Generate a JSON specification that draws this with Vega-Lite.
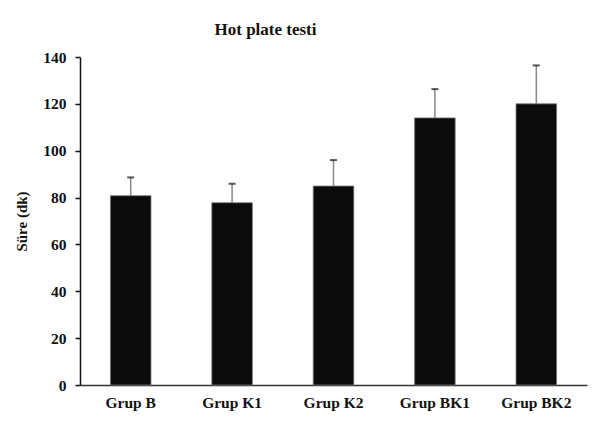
{
  "$schema": "https://vega.github.io/schema/vega-lite/v6.json",
  "width": 507,
  "height": 328,
  "autosize": "none",
  "padding": {"left": 80, "top": 57, "right": 19, "bottom": 40},
  "background": "white",
  "title": {
    "text": "Hot plate testi",
    "font": "Liberation Serif",
    "fontSize": 17,
    "fontWeight": "bold",
    "color": "#111",
    "anchor": "middle",
    "dx": -68,
    "offset": 11
  },
  "data": {
    "values": [
      {"grup": "Grup B", "sure": 80.8, "ust": 88.6},
      {"grup": "Grup K1", "sure": 77.8, "ust": 85.9},
      {"grup": "Grup K2", "sure": 84.9, "ust": 96.0},
      {"grup": "Grup BK1", "sure": 114.0, "ust": 126.3},
      {"grup": "Grup BK2", "sure": 120.0, "ust": 136.4}
    ]
  },
  "encoding": {
    "x": {
      "field": "grup",
      "type": "nominal",
      "sort": null,
      "scale": {"paddingInner": 0.6, "paddingOuter": 0.3},
      "axis": {
        "title": null,
        "labelAngle": 0,
        "ticks": false,
        "domainColor": "#333",
        "domainWidth": 1.5,
        "labelFont": "Liberation Serif",
        "labelFontSize": 15.5,
        "labelFontWeight": "bold",
        "labelColor": "#111",
        "labelPadding": 10
      }
    }
  },
  "layer": [
    {
      "mark": {"type": "rule", "color": "#888", "strokeWidth": 1.5},
      "encoding": {
        "y": {"field": "sure", "type": "quantitative"},
        "y2": {"field": "ust"}
      }
    },
    {
      "mark": {"type": "tick", "color": "#111", "thickness": 2, "size": 7},
      "encoding": {
        "y": {"field": "ust", "type": "quantitative"}
      }
    },
    {
      "mark": {"type": "bar", "color": "#0b0b0b", "stroke": "#777", "strokeWidth": 0.8},
      "encoding": {
        "y": {
          "field": "sure",
          "type": "quantitative",
          "scale": {"domain": [0, 140], "nice": false},
          "axis": {
            "title": "Süre (dk)",
            "titleFont": "Liberation Serif",
            "titleFontSize": 15,
            "titleFontWeight": "bold",
            "titleColor": "#111",
            "titlePadding": 13,
            "values": [0, 10, 20, 30, 40, 50, 60, 70, 80, 90, 100, 110, 120, 130, 140],
            "labelExpr": "datum.value % 20 === 0 ? datum.label : ''",
            "grid": false,
            "domainColor": "#111",
            "domainWidth": 1.5,
            "tickColor": "#111",
            "tickSize": 5,
            "tickWidth": 1.5,
            "labelFont": "Liberation Serif",
            "labelFontSize": 15.5,
            "labelFontWeight": "bold",
            "labelColor": "#111",
            "labelPadding": 9
          }
        }
      }
    }
  ],
  "config": {
    "view": {"stroke": null}
  }
}
